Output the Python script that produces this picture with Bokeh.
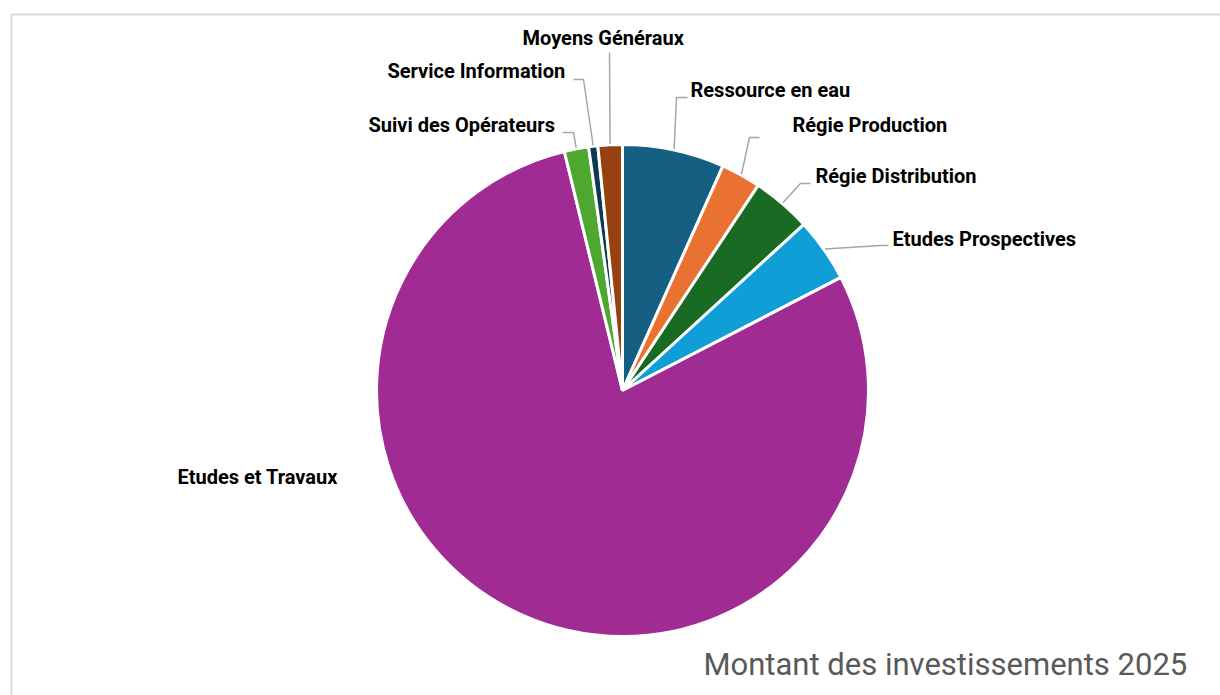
import math
from bokeh.plotting import figure
from bokeh.models import Range1d, ColumnDataSource
from bokeh.core.properties import value
from bokeh.embed import file_html
from bokeh.resources import INLINE

# ---- data ----
categories = ["Ressource en eau", "Régie Production", "Régie Distribution",
              "Etudes Prospectives", "Etudes et Travaux", "Suivi des Opérateurs",
              "Service Information", "Moyens Généraux"]
shares = [6.7, 2.6, 3.9, 4.2, 78.8, 1.6, 0.6, 1.6]
colors = ["#156082", "#E97132", "#196B24", "#0F9ED5", "#A02B93", "#4EA72E",
          "#0D3A4E", "#96410F"]
title_text = "Montant des investissements 2025"

# ---- layout (picture pixel coordinates) ----
W, H = 1220, 695
PAGE_H = 695
def Y(py):
    return PAGE_H - py

CX, CY, R = 622, 390, 246
LABEL_PX = 20
TITLE_PX = 31
# label left x, label baseline y, leader elbow points (from label side toward pie)
label_layout = [
    (690, 97, [(687, 97), (676, 97)]),
    (792, 132, [(759, 137), (749, 137)]),
    (815, 183, [(810, 183), (800, 183)]),
    (892, 246, [(888, 245), (880, 245)]),
    (177, 484, None),
    (368, 132, [(562, 132), (573, 132)]),
    (387, 78, [(573, 79), (583, 79)]),
    (522, 45, [(609, 52)]),
]

total = sum(shares)
starts, ends, mids = [], [], []
acc = 0.0
for s in shares:
    a0 = acc / total
    acc += s
    a1 = acc / total
    starts.append(math.pi / 2 - a0 * 2 * math.pi)
    ends.append(math.pi / 2 - a1 * 2 * math.pi)
    mids.append((a0 + a1) / 2 * 2 * math.pi)

p = figure(width=W, height=H, output_backend="svg", toolbar_location=None,
           x_range=Range1d(0, W), y_range=Range1d(PAGE_H - H, PAGE_H),
           x_axis_location=None, y_axis_location=None, min_border=0,
           background_fill_color="white", border_fill_color="white")
p.outline_line_color = None
p.grid.visible = False

# chart area frame (top and left visible)
p.line([11, 11, 1300], [Y(800), Y(14), Y(14)], line_color="#d9d9d9", line_width=2)

src = ColumnDataSource(dict(cat=categories, val=shares, color=colors,
                            start=starts, end=ends))
p.wedge(x=CX, y=Y(CY), radius=R, start_angle="start", end_angle="end",
        direction="clock", fill_color="color", line_color="white",
        line_width=3, source=src)

# leader lines
xs, ys = [], []
for (lx, ly, elbows), m in zip(label_layout, mids):
    if not elbows:
        continue
    px = CX + (R + 1) * math.sin(m)
    py = CY - (R + 1) * math.cos(m)
    pts = list(elbows) + [(px, py)]
    xs.append([pt[0] for pt in pts])
    ys.append([Y(pt[1]) for pt in pts])
p.multi_line(xs, ys, line_color="#a6a6a6", line_width=1.5)

# labels
p.text(x=[l[0] for l in label_layout], y=[Y(l[1]) for l in label_layout],
       text=categories, text_font=value("Roboto"), text_font_style="bold",
       text_font_size=f"{LABEL_PX}px", text_color="#000000",
       text_align="left", text_baseline="alphabetic",
       y_offset=-0.4 * LABEL_PX)

# title at bottom right
p.text(x=[703], y=[Y(676)], text=[title_text], text_font=value("Roboto"),
       text_font_size=f"{TITLE_PX}px", text_color="#595959",
       text_align="left", text_baseline="alphabetic",
       y_offset=-0.4 * TITLE_PX)

open("out.html", "w").write(file_html(p, INLINE))
